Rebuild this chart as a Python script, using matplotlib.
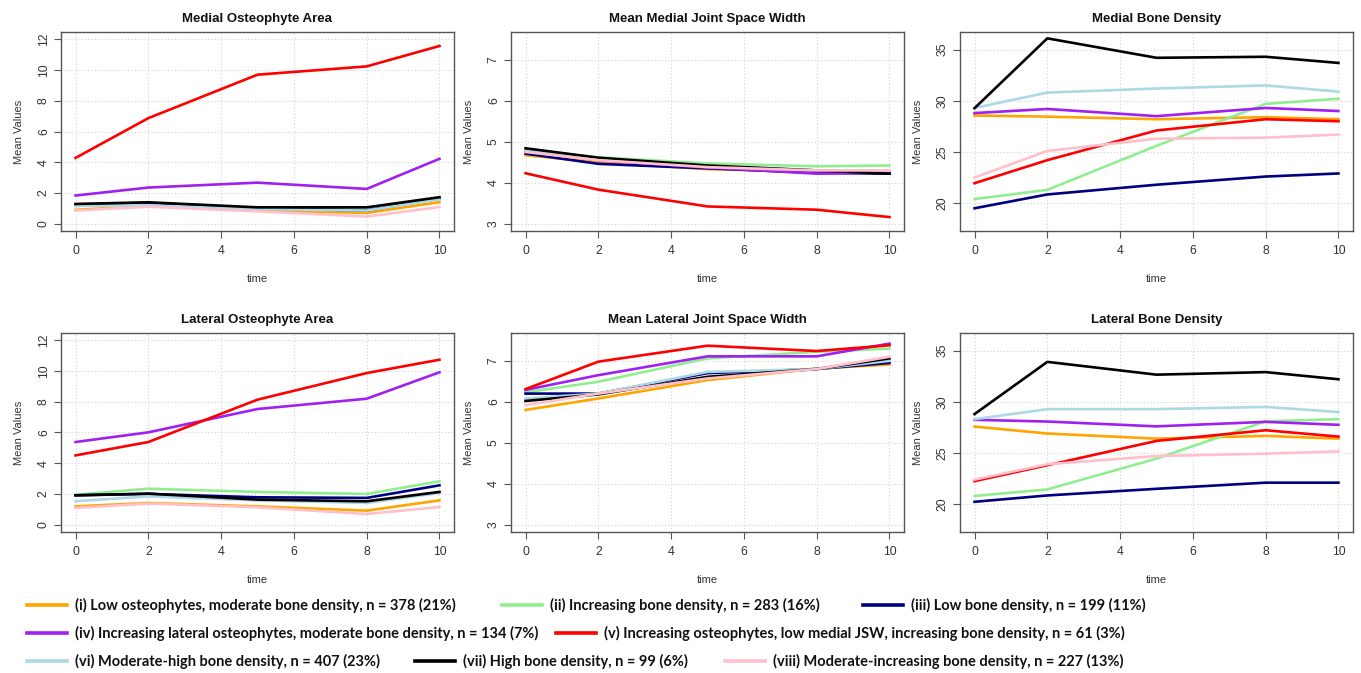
import matplotlib
matplotlib.use("Agg")
import matplotlib.pyplot as plt
from matplotlib.lines import Line2D

time = [0, 2, 5, 8, 10]

groups = ["i", "ii", "iii", "iv", "v", "vi", "vii", "viii"]
colors = ["#FFA500", "#90EE90", "#000080", "#A020F0", "#FF0000", "#ADD8E6", "#000000", "#FFC0CB"]
legend_labels = [
    "(i) Low osteophytes, moderate bone density, n = 378 (21%)",
    "(ii) Increasing bone density, n = 283 (16%)",
    "(iii) Low bone density, n = 199 (11%)",
    "(iv) Increasing lateral osteophytes, moderate bone density, n = 134 (7%)",
    "(v) Increasing osteophytes, low medial JSW, increasing bone density, n = 61 (3%)",
    "(vi) Moderate-high bone density, n = 407 (23%)",
    "(vii) High bone density, n = 99 (6%)",
    "(viii) Moderate-increasing bone density, n = 227 (13%)",
]

# Medial Osteophyte Area
med_ost = {
    "i":    [0.90, 1.15, 0.85, 0.70, 1.40],
    "ii":   [1.20, 1.30, 1.00, 0.90, 1.60],
    "iii":  [1.25, 1.35, 1.00, 0.85, 1.65],
    "iv":   [1.83, 2.35, 2.67, 2.26, 4.22],
    "v":    [4.28, 6.87, 9.70, 10.24, 11.57],
    "vi":   [1.15, 1.20, 0.95, 0.85, 1.60],
    "vii":  [1.28, 1.39, 1.06, 1.06, 1.72],
    "viii": [0.85, 1.10, 0.80, 0.46, 1.08],
}
# Mean Medial Joint Space Width
med_jsw = {
    "i":    [4.67, 4.50, 4.33, 4.28, 4.28],
    "ii":   [4.80, 4.62, 4.47, 4.40, 4.42],
    "iii":  [4.71, 4.46, 4.35, 4.24, 4.22],
    "iv":   [4.78, 4.55, 4.37, 4.22, 4.25],
    "v":    [4.23, 3.83, 3.42, 3.34, 3.16],
    "vi":   [4.80, 4.58, 4.40, 4.30, 4.30],
    "vii":  [4.84, 4.61, 4.42, 4.30, 4.22],
    "viii": [4.75, 4.55, 4.38, 4.30, 4.30],
}
# Medial Bone Density
med_bd = {
    "i":    [28.56, 28.45, 28.20, 28.40, 28.20],
    "ii":   [20.40, 21.30, 25.60, 29.70, 30.20],
    "iii":  [19.50, 20.85, 21.80, 22.60, 22.90],
    "iv":   [28.80, 29.20, 28.50, 29.30, 29.00],
    "v":    [21.95, 24.20, 27.10, 28.20, 28.00],
    "vi":   [29.30, 30.80, 31.20, 31.50, 30.90],
    "vii":  [29.28, 36.10, 34.20, 34.30, 33.70],
    "viii": [22.50, 25.10, 26.30, 26.40, 26.70],
}
# Lateral Osteophyte Area
lat_ost = {
    "i":    [1.19, 1.41, 1.19, 0.91, 1.58],
    "ii":   [1.95, 2.34, 2.13, 2.00, 2.82],
    "iii":  [1.91, 2.00, 1.78, 1.74, 2.56],
    "iv":   [5.38, 6.01, 7.53, 8.20, 9.92],
    "v":    [4.51, 5.38, 8.14, 9.87, 10.74],
    "vi":   [1.52, 1.84, 1.58, 1.41, 2.06],
    "vii":  [1.91, 2.02, 1.63, 1.52, 2.13],
    "viii": [1.09, 1.37, 1.13, 0.69, 1.15],
}
# Mean Lateral Joint Space Width
lat_jsw = {
    "i":    [5.80, 6.08, 6.53, 6.81, 6.91],
    "ii":   [6.23, 6.49, 7.06, 7.22, 7.30],
    "iii":  [6.20, 6.20, 6.70, 6.80, 6.95],
    "iv":   [6.29, 6.65, 7.11, 7.11, 7.42],
    "v":    [6.31, 6.98, 7.37, 7.24, 7.38],
    "vi":   [6.08, 6.20, 6.73, 6.80, 7.00],
    "vii":  [6.02, 6.18, 6.61, 6.80, 7.06],
    "viii": [5.92, 6.20, 6.57, 6.80, 7.10],
}
# Lateral Bone Density
lat_bd = {
    "i":    [27.58, 26.90, 26.40, 26.67, 26.40],
    "ii":   [20.80, 21.44, 24.45, 28.10, 28.30],
    "iii":  [20.23, 20.85, 21.50, 22.10, 22.10],
    "iv":   [28.24, 28.07, 27.60, 28.04, 27.75],
    "v":    [22.25, 23.80, 26.18, 27.22, 26.60],
    "vi":   [28.30, 29.28, 29.28, 29.50, 29.00],
    "vii":  [28.80, 33.90, 32.65, 32.90, 32.20],
    "viii": [22.40, 23.90, 24.70, 24.93, 25.16],
}

panels = [
    ("Medial Osteophyte Area", med_ost, (0, 12), [0, 2, 4, 6, 8, 10, 12]),
    ("Mean Medial Joint Space Width", med_jsw, (3, 7.5), [3, 4, 5, 6, 7]),
    ("Medial Bone Density", med_bd, (18, 36), [20, 25, 30, 35]),
    ("Lateral Osteophyte Area", lat_ost, (0, 12), [0, 2, 4, 6, 8, 10, 12]),
    ("Mean Lateral Joint Space Width", lat_jsw, (3, 7.5), [3, 4, 5, 6, 7]),
    ("Lateral Bone Density", lat_bd, (18, 36), [20, 25, 30, 35]),
]

W, H = 1361, 673
fig = plt.figure(figsize=(W / 100, H / 100), dpi=100)
plt.rcParams["font.family"] = ["Liberation Sans", "DejaVu Sans"]

col_lr = [(61, 454), (511, 904), (960, 1353)]
row_tb = [(32, 231), (333, 532)]

for idx, (title, data, ylim, yticks) in enumerate(panels):
    r, c = divmod(idx, 3)
    l, rr = col_lr[c]
    t, b = row_tb[r]
    ax = fig.add_axes([l / W, 1 - b / H, (rr - l) / W, (b - t) / H])
    for g, col in zip(groups, colors):
        ax.plot(time, data[g], color=col, lw=1.9, solid_joinstyle="round")
    ext = (ylim[1] - ylim[0]) * 0.04
    ax.set_ylim(ylim[0] - ext, ylim[1] + ext)
    ax.set_xlim(-0.4, 10.4)
    ax.set_xticks([0, 2, 4, 6, 8, 10])
    ax.set_yticks(yticks)
    ax.grid(True, color="#d3d3d3", linestyle=(0, (1, 2)), lw=0.8)
    ax.set_axisbelow(True)
    for s in ax.spines.values():
        s.set_color("#555555")
        s.set_linewidth(1.0)
    ax.tick_params(axis="both", colors="#555555", labelcolor="#333333",
                   labelsize=8.8, length=5, width=0.8, direction="out")
    ax.tick_params(axis="x", pad=5)
    ax.tick_params(axis="y", pad=3)
    for lab in ax.get_yticklabels():
        lab.set_rotation(90)
        lab.set_va("center")
    ax.set_title(title, fontsize=9.5, fontweight="bold", color="#111111", pad=7)
    ax.set_xlabel("time", fontsize=8, color="#333333", labelpad=12)
    ax.set_ylabel("Mean Values", fontsize=8, color="#333333", labelpad=10)

# Legend (custom placed rows)
leg_rows = [
    [(0, 27), (1, 502), (2, 863)],
    [(3, 27), (4, 556)],
    [(5, 27), (6, 415), (7, 725)],
]
row_y = [605, 633, 661]
for rowi, items in enumerate(leg_rows):
    y = 1 - row_y[rowi] / H
    for k, x0 in items:
        fig.add_artist(Line2D([x0 / W, (x0 + 40) / W], [y, y], color=colors[k], lw=2.6,
                              transform=fig.transFigure))
        fig.text((x0 + 48) / W, y, legend_labels[k], fontsize=10.5, fontweight="bold",
                 family=["Lato", "DejaVu Sans"], va="center", ha="left", color="#111111")

fig.savefig("out.png", dpi=100, facecolor="white")
